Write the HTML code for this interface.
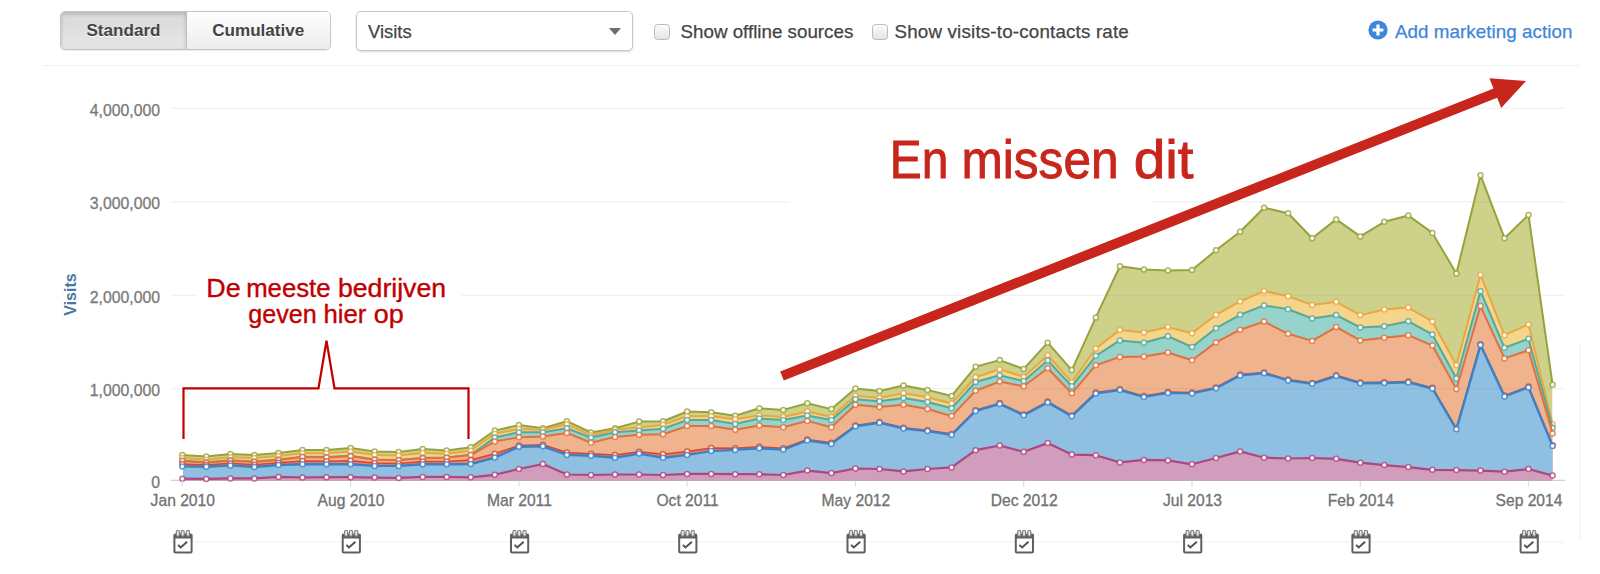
<!DOCTYPE html>
<html><head><meta charset="utf-8"><title>Sources</title>
<style>
html,body{margin:0;padding:0;background:#fff}
body{width:1600px;height:574px;position:relative;overflow:hidden;font-family:"Liberation Sans",sans-serif;color:#444}
.chart{position:absolute;left:0;top:0}
.abs{position:absolute}
.btns{left:60px;top:11px;width:270.5px;height:39.4px;border:1px solid #c4c4c4;border-radius:5px;box-sizing:border-box;overflow:hidden;box-shadow:0 1px 1px rgba(0,0,0,.08);display:flex}
.btns div{height:100%;font-weight:bold;font-size:17.1px;line-height:38.5px;text-align:center;color:#444;text-shadow:0 1px 0 #fff}
.b1{width:125px;background:linear-gradient(#d9d9d9,#e6e6e6);box-shadow:inset 0 2px 4px rgba(0,0,0,.18);border-right:1px solid #bdbdbd}
.b2{flex:1;background:linear-gradient(#ffffff,#ececec)}
.sel{left:356px;top:11px;width:277px;height:40px;border:1px solid #c8c8c8;border-radius:5px;box-sizing:border-box;background:#fff;box-shadow:0 1px 2px rgba(0,0,0,.15);-webkit-text-stroke:.25px;font-size:18.4px;line-height:39px;padding-left:11px;color:#444}
.sel:after{content:"";position:absolute;right:11px;top:15.5px;border-left:6.3px solid transparent;border-right:6.3px solid transparent;border-top:7.2px solid #6e6e6e}
.cb{width:16px;height:16px;box-sizing:border-box;border:1px solid #bbb;border-radius:3.5px;background:linear-gradient(#fdfdfd,#e4e4e4);top:23.7px}
.lbl{-webkit-text-stroke:.25px;font-size:18.77px;top:20.5px;line-height:22px;color:#444;white-space:nowrap}
.link{color:#3e86d9}
.hr{left:43px;top:65px;width:1535.5px;height:1.3px;background:#f1f1f1}
</style></head><body>
<div class="abs btns"><div class="b1">Standard</div><div class="b2">Cumulative</div></div>
<div class="abs sel">Visits</div>
<div class="abs cb" style="left:654px"></div><div class="abs lbl" style="left:680.5px">Show offline sources</div>
<div class="abs cb" style="left:872.2px"></div><div class="abs lbl" style="left:894.5px;letter-spacing:.18px">Show visits-to-contacts rate</div>
<svg class="abs" style="left:1368px;top:20px" width="20" height="20" viewBox="0 0 20 20"><circle cx="10" cy="10" r="9.6" fill="#3e86d9"/><path d="M10 4.6v10.8M4.6 10h10.8" stroke="#fff" stroke-width="3.2"/></svg>
<div class="abs lbl link" style="left:1395px;letter-spacing:.06px">Add marketing action</div>
<div class="abs hr"></div>
<svg class="chart" width="1600" height="574" viewBox="0 0 1600 574">
<line x1="171" x2="1565" y1="108.4" y2="108.4" stroke="#f1f1f1" stroke-width="1.2"/>
<line x1="171" x2="1565" y1="201.8" y2="201.8" stroke="#f1f1f1" stroke-width="1.2"/>
<line x1="171" x2="1565" y1="295.3" y2="295.3" stroke="#f1f1f1" stroke-width="1.2"/>
<line x1="171" x2="1565" y1="388.7" y2="388.7" stroke="#f1f1f1" stroke-width="1.2"/>
<line x1="171" x2="1565" y1="480.4" y2="480.4" stroke="#d2d2d2" stroke-width="1.4"/>
<clipPath id="fc"><rect x="183" y="100" width="1369.4" height="381"/></clipPath>
<line x1="170" x2="1564" y1="542" y2="542" stroke="#f1f1f1" stroke-width="1.2"/>
<line x1="1580" x2="1580" y1="343" y2="541" stroke="#f0f0f0" stroke-width="1.2"/>
<rect x="196" y="270" width="265.5" height="62" fill="#fff"/>
<rect x="790" y="120" width="363" height="90" fill="#fff"/>
<clipPath id="cG"><polygon points="182.3,480.4 182.3,455.1 206.3,456.6 230.4,454.1 254.4,455.1 278.5,452.9 302.5,450.1 326.5,450.1 350.6,448.1 374.6,451.5 398.7,452.0 422.7,449.1 446.7,450.4 470.8,447.3 494.8,430.6 518.9,425.1 542.9,428.2 566.9,421.2 591.0,432.5 615.0,428.2 639.1,421.6 663.1,421.3 687.1,411.5 711.2,412.3 735.2,415.7 759.3,408.3 783.3,409.9 807.3,403.2 831.4,409.1 855.4,388.6 879.5,391.0 903.5,385.5 927.5,389.9 951.6,396.0 975.6,366.7 999.7,360.1 1023.7,369.0 1047.7,342.7 1071.8,370.1 1095.8,317.4 1119.9,266.2 1143.9,269.6 1167.9,270.4 1192.0,269.9 1216.0,250.3 1240.1,231.8 1264.1,207.8 1288.1,213.2 1312.2,238.3 1336.2,219.4 1360.3,236.4 1384.3,221.8 1408.3,215.5 1432.4,232.9 1456.4,273.5 1480.5,175.2 1504.5,238.2 1528.5,214.9 1552.6,384.8 1552.6,480.4"/></clipPath>
<polygon points="182.3,480.4 182.3,455.1 206.3,456.6 230.4,454.1 254.4,455.1 278.5,452.9 302.5,450.1 326.5,450.1 350.6,448.1 374.6,451.5 398.7,452.0 422.7,449.1 446.7,450.4 470.8,447.3 494.8,430.6 518.9,425.1 542.9,428.2 566.9,421.2 591.0,432.5 615.0,428.2 639.1,421.6 663.1,421.3 687.1,411.5 711.2,412.3 735.2,415.7 759.3,408.3 783.3,409.9 807.3,403.2 831.4,409.1 855.4,388.6 879.5,391.0 903.5,385.5 927.5,389.9 951.6,396.0 975.6,366.7 999.7,360.1 1023.7,369.0 1047.7,342.7 1071.8,370.1 1095.8,317.4 1119.9,266.2 1143.9,269.6 1167.9,270.4 1192.0,269.9 1216.0,250.3 1240.1,231.8 1264.1,207.8 1288.1,213.2 1312.2,238.3 1336.2,219.4 1360.3,236.4 1384.3,221.8 1408.3,215.5 1432.4,232.9 1456.4,273.5 1480.5,175.2 1504.5,238.2 1528.5,214.9 1552.6,384.8 1552.6,480.4" fill="#ced18a" clip-path="url(#fc)"/>
<g clip-path="url(#cG)" stroke="#000" stroke-opacity="0.045" stroke-width="1.2">
<line x1="171" x2="1565" y1="201.8" y2="201.8"/>
<line x1="171" x2="1565" y1="295.3" y2="295.3"/>
<line x1="171" x2="1565" y1="388.7" y2="388.7"/>
</g>
<polyline points="182.3,455.1 206.3,456.6 230.4,454.1 254.4,455.1 278.5,452.9 302.5,450.1 326.5,450.1 350.6,448.1 374.6,451.5 398.7,452.0 422.7,449.1 446.7,450.4 470.8,447.3 494.8,430.6 518.9,425.1 542.9,428.2 566.9,421.2 591.0,432.5 615.0,428.2 639.1,421.6 663.1,421.3 687.1,411.5 711.2,412.3 735.2,415.7 759.3,408.3 783.3,409.9 807.3,403.2 831.4,409.1 855.4,388.6 879.5,391.0 903.5,385.5 927.5,389.9 951.6,396.0 975.6,366.7 999.7,360.1 1023.7,369.0 1047.7,342.7 1071.8,370.1 1095.8,317.4 1119.9,266.2 1143.9,269.6 1167.9,270.4 1192.0,269.9 1216.0,250.3 1240.1,231.8 1264.1,207.8 1288.1,213.2 1312.2,238.3 1336.2,219.4 1360.3,236.4 1384.3,221.8 1408.3,215.5 1432.4,232.9 1456.4,273.5 1480.5,175.2 1504.5,238.2 1528.5,214.9 1552.6,384.8" fill="none" stroke="#98a23c" stroke-width="2.0" stroke-linejoin="round" stroke-linecap="round"/>
<g fill="#fff" stroke="#98a23c" stroke-width="1.5" stroke-opacity="0.8">
<circle cx="182.3" cy="455.1" r="2.5"/>
<circle cx="206.3" cy="456.6" r="2.5"/>
<circle cx="230.4" cy="454.1" r="2.5"/>
<circle cx="254.4" cy="455.1" r="2.5"/>
<circle cx="278.5" cy="452.9" r="2.5"/>
<circle cx="302.5" cy="450.1" r="2.5"/>
<circle cx="326.5" cy="450.1" r="2.5"/>
<circle cx="350.6" cy="448.1" r="2.5"/>
<circle cx="374.6" cy="451.5" r="2.5"/>
<circle cx="398.7" cy="452.0" r="2.5"/>
<circle cx="422.7" cy="449.1" r="2.5"/>
<circle cx="446.7" cy="450.4" r="2.5"/>
<circle cx="470.8" cy="447.3" r="2.5"/>
<circle cx="494.8" cy="430.6" r="2.5"/>
<circle cx="518.9" cy="425.1" r="2.5"/>
<circle cx="542.9" cy="428.2" r="2.5"/>
<circle cx="566.9" cy="421.2" r="2.5"/>
<circle cx="591.0" cy="432.5" r="2.5"/>
<circle cx="615.0" cy="428.2" r="2.5"/>
<circle cx="639.1" cy="421.6" r="2.5"/>
<circle cx="663.1" cy="421.3" r="2.5"/>
<circle cx="687.1" cy="411.5" r="2.5"/>
<circle cx="711.2" cy="412.3" r="2.5"/>
<circle cx="735.2" cy="415.7" r="2.5"/>
<circle cx="759.3" cy="408.3" r="2.5"/>
<circle cx="783.3" cy="409.9" r="2.5"/>
<circle cx="807.3" cy="403.2" r="2.5"/>
<circle cx="831.4" cy="409.1" r="2.5"/>
<circle cx="855.4" cy="388.6" r="2.5"/>
<circle cx="879.5" cy="391.0" r="2.5"/>
<circle cx="903.5" cy="385.5" r="2.5"/>
<circle cx="927.5" cy="389.9" r="2.5"/>
<circle cx="951.6" cy="396.0" r="2.5"/>
<circle cx="975.6" cy="366.7" r="2.5"/>
<circle cx="999.7" cy="360.1" r="2.5"/>
<circle cx="1023.7" cy="369.0" r="2.5"/>
<circle cx="1047.7" cy="342.7" r="2.5"/>
<circle cx="1071.8" cy="370.1" r="2.5"/>
<circle cx="1095.8" cy="317.4" r="2.5"/>
<circle cx="1119.9" cy="266.2" r="2.5"/>
<circle cx="1143.9" cy="269.6" r="2.5"/>
<circle cx="1167.9" cy="270.4" r="2.5"/>
<circle cx="1192.0" cy="269.9" r="2.5"/>
<circle cx="1216.0" cy="250.3" r="2.5"/>
<circle cx="1240.1" cy="231.8" r="2.5"/>
<circle cx="1264.1" cy="207.8" r="2.5"/>
<circle cx="1288.1" cy="213.2" r="2.5"/>
<circle cx="1312.2" cy="238.3" r="2.5"/>
<circle cx="1336.2" cy="219.4" r="2.5"/>
<circle cx="1360.3" cy="236.4" r="2.5"/>
<circle cx="1384.3" cy="221.8" r="2.5"/>
<circle cx="1408.3" cy="215.5" r="2.5"/>
<circle cx="1432.4" cy="232.9" r="2.5"/>
<circle cx="1456.4" cy="273.5" r="2.5"/>
<circle cx="1480.5" cy="175.2" r="2.5"/>
<circle cx="1504.5" cy="238.2" r="2.5"/>
<circle cx="1528.5" cy="214.9" r="2.5"/>
<circle cx="1552.6" cy="384.8" r="2.5"/>
</g>
<clipPath id="cY"><polygon points="182.3,480.4 182.3,458.1 206.3,459.7 230.4,457.3 254.4,458.1 278.5,456.1 302.5,453.2 326.5,453.3 350.6,451.6 374.6,455.1 398.7,455.6 422.7,453.1 446.7,453.7 470.8,450.7 494.8,433.7 518.9,429.0 542.9,429.8 566.9,424.3 591.0,435.3 615.0,429.8 639.1,427.4 663.1,424.8 687.1,416.2 711.2,416.2 735.2,419.3 759.3,415.4 783.3,417.0 807.3,411.5 831.4,417.0 855.4,395.7 879.5,398.0 903.5,393.3 927.5,397.2 951.6,403.5 975.6,377.3 999.7,369.3 1023.7,376.9 1047.7,355.2 1071.8,382.3 1095.8,348.5 1119.9,329.9 1143.9,332.5 1167.9,327.1 1192.0,333.3 1216.0,314.8 1240.1,301.4 1264.1,291.1 1288.1,296.3 1312.2,304.9 1336.2,301.8 1360.3,315.1 1384.3,309.6 1408.3,307.6 1432.4,321.4 1456.4,365.2 1480.5,274.8 1504.5,335.2 1528.5,324.4 1552.6,424.3 1552.6,480.4"/></clipPath>
<polygon points="182.3,480.4 182.3,458.1 206.3,459.7 230.4,457.3 254.4,458.1 278.5,456.1 302.5,453.2 326.5,453.3 350.6,451.6 374.6,455.1 398.7,455.6 422.7,453.1 446.7,453.7 470.8,450.7 494.8,433.7 518.9,429.0 542.9,429.8 566.9,424.3 591.0,435.3 615.0,429.8 639.1,427.4 663.1,424.8 687.1,416.2 711.2,416.2 735.2,419.3 759.3,415.4 783.3,417.0 807.3,411.5 831.4,417.0 855.4,395.7 879.5,398.0 903.5,393.3 927.5,397.2 951.6,403.5 975.6,377.3 999.7,369.3 1023.7,376.9 1047.7,355.2 1071.8,382.3 1095.8,348.5 1119.9,329.9 1143.9,332.5 1167.9,327.1 1192.0,333.3 1216.0,314.8 1240.1,301.4 1264.1,291.1 1288.1,296.3 1312.2,304.9 1336.2,301.8 1360.3,315.1 1384.3,309.6 1408.3,307.6 1432.4,321.4 1456.4,365.2 1480.5,274.8 1504.5,335.2 1528.5,324.4 1552.6,424.3 1552.6,480.4" fill="#f5d58b" clip-path="url(#fc)"/>
<g clip-path="url(#cY)" stroke="#000" stroke-opacity="0.045" stroke-width="1.2">
<line x1="171" x2="1565" y1="295.3" y2="295.3"/>
<line x1="171" x2="1565" y1="388.7" y2="388.7"/>
</g>
<polyline points="182.3,458.1 206.3,459.7 230.4,457.3 254.4,458.1 278.5,456.1 302.5,453.2 326.5,453.3 350.6,451.6 374.6,455.1 398.7,455.6 422.7,453.1 446.7,453.7 470.8,450.7 494.8,433.7 518.9,429.0 542.9,429.8 566.9,424.3 591.0,435.3 615.0,429.8 639.1,427.4 663.1,424.8 687.1,416.2 711.2,416.2 735.2,419.3 759.3,415.4 783.3,417.0 807.3,411.5 831.4,417.0 855.4,395.7 879.5,398.0 903.5,393.3 927.5,397.2 951.6,403.5 975.6,377.3 999.7,369.3 1023.7,376.9 1047.7,355.2 1071.8,382.3 1095.8,348.5 1119.9,329.9 1143.9,332.5 1167.9,327.1 1192.0,333.3 1216.0,314.8 1240.1,301.4 1264.1,291.1 1288.1,296.3 1312.2,304.9 1336.2,301.8 1360.3,315.1 1384.3,309.6 1408.3,307.6 1432.4,321.4 1456.4,365.2 1480.5,274.8 1504.5,335.2 1528.5,324.4 1552.6,424.3" fill="none" stroke="#e8a742" stroke-width="2.0" stroke-linejoin="round" stroke-linecap="round"/>
<g fill="#fff" stroke="#e8a742" stroke-width="1.5" stroke-opacity="0.8">
<circle cx="182.3" cy="458.1" r="2.5"/>
<circle cx="206.3" cy="459.7" r="2.5"/>
<circle cx="230.4" cy="457.3" r="2.5"/>
<circle cx="254.4" cy="458.1" r="2.5"/>
<circle cx="278.5" cy="456.1" r="2.5"/>
<circle cx="302.5" cy="453.2" r="2.5"/>
<circle cx="326.5" cy="453.3" r="2.5"/>
<circle cx="350.6" cy="451.6" r="2.5"/>
<circle cx="374.6" cy="455.1" r="2.5"/>
<circle cx="398.7" cy="455.6" r="2.5"/>
<circle cx="422.7" cy="453.1" r="2.5"/>
<circle cx="446.7" cy="453.7" r="2.5"/>
<circle cx="470.8" cy="450.7" r="2.5"/>
<circle cx="494.8" cy="433.7" r="2.5"/>
<circle cx="518.9" cy="429.0" r="2.5"/>
<circle cx="542.9" cy="429.8" r="2.5"/>
<circle cx="566.9" cy="424.3" r="2.5"/>
<circle cx="591.0" cy="435.3" r="2.5"/>
<circle cx="615.0" cy="429.8" r="2.5"/>
<circle cx="639.1" cy="427.4" r="2.5"/>
<circle cx="663.1" cy="424.8" r="2.5"/>
<circle cx="687.1" cy="416.2" r="2.5"/>
<circle cx="711.2" cy="416.2" r="2.5"/>
<circle cx="735.2" cy="419.3" r="2.5"/>
<circle cx="759.3" cy="415.4" r="2.5"/>
<circle cx="783.3" cy="417.0" r="2.5"/>
<circle cx="807.3" cy="411.5" r="2.5"/>
<circle cx="831.4" cy="417.0" r="2.5"/>
<circle cx="855.4" cy="395.7" r="2.5"/>
<circle cx="879.5" cy="398.0" r="2.5"/>
<circle cx="903.5" cy="393.3" r="2.5"/>
<circle cx="927.5" cy="397.2" r="2.5"/>
<circle cx="951.6" cy="403.5" r="2.5"/>
<circle cx="975.6" cy="377.3" r="2.5"/>
<circle cx="999.7" cy="369.3" r="2.5"/>
<circle cx="1023.7" cy="376.9" r="2.5"/>
<circle cx="1047.7" cy="355.2" r="2.5"/>
<circle cx="1071.8" cy="382.3" r="2.5"/>
<circle cx="1095.8" cy="348.5" r="2.5"/>
<circle cx="1119.9" cy="329.9" r="2.5"/>
<circle cx="1143.9" cy="332.5" r="2.5"/>
<circle cx="1167.9" cy="327.1" r="2.5"/>
<circle cx="1192.0" cy="333.3" r="2.5"/>
<circle cx="1216.0" cy="314.8" r="2.5"/>
<circle cx="1240.1" cy="301.4" r="2.5"/>
<circle cx="1264.1" cy="291.1" r="2.5"/>
<circle cx="1288.1" cy="296.3" r="2.5"/>
<circle cx="1312.2" cy="304.9" r="2.5"/>
<circle cx="1336.2" cy="301.8" r="2.5"/>
<circle cx="1360.3" cy="315.1" r="2.5"/>
<circle cx="1384.3" cy="309.6" r="2.5"/>
<circle cx="1408.3" cy="307.6" r="2.5"/>
<circle cx="1432.4" cy="321.4" r="2.5"/>
<circle cx="1456.4" cy="365.2" r="2.5"/>
<circle cx="1480.5" cy="274.8" r="2.5"/>
<circle cx="1504.5" cy="335.2" r="2.5"/>
<circle cx="1528.5" cy="324.4" r="2.5"/>
<circle cx="1552.6" cy="424.3" r="2.5"/>
</g>
<clipPath id="cT"><polygon points="182.3,480.4 182.3,460.7 206.3,462.3 230.4,460.3 254.4,461.5 278.5,459.5 302.5,456.7 326.5,457.1 350.6,455.8 374.6,459.4 398.7,459.9 422.7,457.8 446.7,457.4 470.8,454.7 494.8,437.6 518.9,432.2 542.9,432.2 566.9,428.2 591.0,437.6 615.0,432.2 639.1,430.6 663.1,428.7 687.1,420.1 711.2,420.1 735.2,424.0 759.3,418.5 783.3,420.1 807.3,415.4 831.4,420.1 855.4,399.3 879.5,401.2 903.5,398.0 927.5,402.0 951.6,408.2 975.6,382.0 999.7,375.3 1023.7,381.1 1047.7,360.4 1071.8,386.3 1095.8,355.8 1119.9,340.4 1143.9,342.7 1167.9,336.2 1192.0,347.0 1216.0,328.2 1240.1,314.8 1264.1,305.4 1288.1,309.3 1312.2,318.5 1336.2,315.1 1360.3,327.5 1384.3,326.3 1408.3,321.3 1432.4,334.4 1456.4,378.5 1480.5,291.2 1504.5,347.8 1528.5,338.8 1552.6,428.0 1552.6,480.4"/></clipPath>
<polygon points="182.3,480.4 182.3,460.7 206.3,462.3 230.4,460.3 254.4,461.5 278.5,459.5 302.5,456.7 326.5,457.1 350.6,455.8 374.6,459.4 398.7,459.9 422.7,457.8 446.7,457.4 470.8,454.7 494.8,437.6 518.9,432.2 542.9,432.2 566.9,428.2 591.0,437.6 615.0,432.2 639.1,430.6 663.1,428.7 687.1,420.1 711.2,420.1 735.2,424.0 759.3,418.5 783.3,420.1 807.3,415.4 831.4,420.1 855.4,399.3 879.5,401.2 903.5,398.0 927.5,402.0 951.6,408.2 975.6,382.0 999.7,375.3 1023.7,381.1 1047.7,360.4 1071.8,386.3 1095.8,355.8 1119.9,340.4 1143.9,342.7 1167.9,336.2 1192.0,347.0 1216.0,328.2 1240.1,314.8 1264.1,305.4 1288.1,309.3 1312.2,318.5 1336.2,315.1 1360.3,327.5 1384.3,326.3 1408.3,321.3 1432.4,334.4 1456.4,378.5 1480.5,291.2 1504.5,347.8 1528.5,338.8 1552.6,428.0 1552.6,480.4" fill="#96d3cb" clip-path="url(#fc)"/>
<g clip-path="url(#cT)" stroke="#000" stroke-opacity="0.045" stroke-width="1.2">
<line x1="171" x2="1565" y1="295.3" y2="295.3"/>
<line x1="171" x2="1565" y1="388.7" y2="388.7"/>
</g>
<polyline points="182.3,460.7 206.3,462.3 230.4,460.3 254.4,461.5 278.5,459.5 302.5,456.7 326.5,457.1 350.6,455.8 374.6,459.4 398.7,459.9 422.7,457.8 446.7,457.4 470.8,454.7 494.8,437.6 518.9,432.2 542.9,432.2 566.9,428.2 591.0,437.6 615.0,432.2 639.1,430.6 663.1,428.7 687.1,420.1 711.2,420.1 735.2,424.0 759.3,418.5 783.3,420.1 807.3,415.4 831.4,420.1 855.4,399.3 879.5,401.2 903.5,398.0 927.5,402.0 951.6,408.2 975.6,382.0 999.7,375.3 1023.7,381.1 1047.7,360.4 1071.8,386.3 1095.8,355.8 1119.9,340.4 1143.9,342.7 1167.9,336.2 1192.0,347.0 1216.0,328.2 1240.1,314.8 1264.1,305.4 1288.1,309.3 1312.2,318.5 1336.2,315.1 1360.3,327.5 1384.3,326.3 1408.3,321.3 1432.4,334.4 1456.4,378.5 1480.5,291.2 1504.5,347.8 1528.5,338.8 1552.6,428.0" fill="none" stroke="#58a898" stroke-width="2.0" stroke-linejoin="round" stroke-linecap="round"/>
<g fill="#fff" stroke="#58a898" stroke-width="1.5" stroke-opacity="0.8">
<circle cx="182.3" cy="460.7" r="2.5"/>
<circle cx="206.3" cy="462.3" r="2.5"/>
<circle cx="230.4" cy="460.3" r="2.5"/>
<circle cx="254.4" cy="461.5" r="2.5"/>
<circle cx="278.5" cy="459.5" r="2.5"/>
<circle cx="302.5" cy="456.7" r="2.5"/>
<circle cx="326.5" cy="457.1" r="2.5"/>
<circle cx="350.6" cy="455.8" r="2.5"/>
<circle cx="374.6" cy="459.4" r="2.5"/>
<circle cx="398.7" cy="459.9" r="2.5"/>
<circle cx="422.7" cy="457.8" r="2.5"/>
<circle cx="446.7" cy="457.4" r="2.5"/>
<circle cx="470.8" cy="454.7" r="2.5"/>
<circle cx="494.8" cy="437.6" r="2.5"/>
<circle cx="518.9" cy="432.2" r="2.5"/>
<circle cx="542.9" cy="432.2" r="2.5"/>
<circle cx="566.9" cy="428.2" r="2.5"/>
<circle cx="591.0" cy="437.6" r="2.5"/>
<circle cx="615.0" cy="432.2" r="2.5"/>
<circle cx="639.1" cy="430.6" r="2.5"/>
<circle cx="663.1" cy="428.7" r="2.5"/>
<circle cx="687.1" cy="420.1" r="2.5"/>
<circle cx="711.2" cy="420.1" r="2.5"/>
<circle cx="735.2" cy="424.0" r="2.5"/>
<circle cx="759.3" cy="418.5" r="2.5"/>
<circle cx="783.3" cy="420.1" r="2.5"/>
<circle cx="807.3" cy="415.4" r="2.5"/>
<circle cx="831.4" cy="420.1" r="2.5"/>
<circle cx="855.4" cy="399.3" r="2.5"/>
<circle cx="879.5" cy="401.2" r="2.5"/>
<circle cx="903.5" cy="398.0" r="2.5"/>
<circle cx="927.5" cy="402.0" r="2.5"/>
<circle cx="951.6" cy="408.2" r="2.5"/>
<circle cx="975.6" cy="382.0" r="2.5"/>
<circle cx="999.7" cy="375.3" r="2.5"/>
<circle cx="1023.7" cy="381.1" r="2.5"/>
<circle cx="1047.7" cy="360.4" r="2.5"/>
<circle cx="1071.8" cy="386.3" r="2.5"/>
<circle cx="1095.8" cy="355.8" r="2.5"/>
<circle cx="1119.9" cy="340.4" r="2.5"/>
<circle cx="1143.9" cy="342.7" r="2.5"/>
<circle cx="1167.9" cy="336.2" r="2.5"/>
<circle cx="1192.0" cy="347.0" r="2.5"/>
<circle cx="1216.0" cy="328.2" r="2.5"/>
<circle cx="1240.1" cy="314.8" r="2.5"/>
<circle cx="1264.1" cy="305.4" r="2.5"/>
<circle cx="1288.1" cy="309.3" r="2.5"/>
<circle cx="1312.2" cy="318.5" r="2.5"/>
<circle cx="1336.2" cy="315.1" r="2.5"/>
<circle cx="1360.3" cy="327.5" r="2.5"/>
<circle cx="1384.3" cy="326.3" r="2.5"/>
<circle cx="1408.3" cy="321.3" r="2.5"/>
<circle cx="1432.4" cy="334.4" r="2.5"/>
<circle cx="1456.4" cy="378.5" r="2.5"/>
<circle cx="1480.5" cy="291.2" r="2.5"/>
<circle cx="1504.5" cy="347.8" r="2.5"/>
<circle cx="1528.5" cy="338.8" r="2.5"/>
<circle cx="1552.6" cy="428.0" r="2.5"/>
</g>
<clipPath id="cO"><polygon points="182.3,480.4 182.3,461.1 206.3,462.7 230.4,460.7 254.4,461.9 278.5,459.9 302.5,457.1 326.5,457.5 350.6,456.2 374.6,459.8 398.7,460.3 422.7,458.2 446.7,457.8 470.8,455.1 494.8,441.6 518.9,437.2 542.9,436.4 566.9,432.9 591.0,442.7 615.0,436.9 639.1,434.8 663.1,434.2 687.1,426.1 711.2,426.1 735.2,429.8 759.3,425.6 783.3,427.2 807.3,420.9 831.4,427.2 855.4,404.8 879.5,407.1 903.5,404.8 927.5,409.0 951.6,416.1 975.6,390.7 999.7,381.6 1023.7,386.3 1047.7,368.2 1071.8,393.3 1095.8,365.2 1119.9,356.9 1143.9,356.4 1167.9,352.5 1192.0,360.3 1216.0,342.4 1240.1,329.7 1264.1,321.6 1288.1,333.8 1312.2,340.9 1336.2,327.1 1360.3,340.4 1384.3,337.7 1408.3,335.2 1432.4,345.6 1456.4,389.0 1480.5,306.1 1504.5,358.4 1528.5,350.3 1552.6,433.4 1552.6,480.4"/></clipPath>
<polygon points="182.3,480.4 182.3,461.1 206.3,462.7 230.4,460.7 254.4,461.9 278.5,459.9 302.5,457.1 326.5,457.5 350.6,456.2 374.6,459.8 398.7,460.3 422.7,458.2 446.7,457.8 470.8,455.1 494.8,441.6 518.9,437.2 542.9,436.4 566.9,432.9 591.0,442.7 615.0,436.9 639.1,434.8 663.1,434.2 687.1,426.1 711.2,426.1 735.2,429.8 759.3,425.6 783.3,427.2 807.3,420.9 831.4,427.2 855.4,404.8 879.5,407.1 903.5,404.8 927.5,409.0 951.6,416.1 975.6,390.7 999.7,381.6 1023.7,386.3 1047.7,368.2 1071.8,393.3 1095.8,365.2 1119.9,356.9 1143.9,356.4 1167.9,352.5 1192.0,360.3 1216.0,342.4 1240.1,329.7 1264.1,321.6 1288.1,333.8 1312.2,340.9 1336.2,327.1 1360.3,340.4 1384.3,337.7 1408.3,335.2 1432.4,345.6 1456.4,389.0 1480.5,306.1 1504.5,358.4 1528.5,350.3 1552.6,433.4 1552.6,480.4" fill="#efb38e" clip-path="url(#fc)"/>
<g clip-path="url(#cO)" stroke="#000" stroke-opacity="0.045" stroke-width="1.2">
<line x1="171" x2="1565" y1="388.7" y2="388.7"/>
</g>
<polyline points="182.3,461.1 206.3,462.7 230.4,460.7 254.4,461.9 278.5,459.9 302.5,457.1 326.5,457.5 350.6,456.2 374.6,459.8 398.7,460.3 422.7,458.2 446.7,457.8 470.8,455.1 494.8,441.6 518.9,437.2 542.9,436.4 566.9,432.9 591.0,442.7 615.0,436.9 639.1,434.8 663.1,434.2 687.1,426.1 711.2,426.1 735.2,429.8 759.3,425.6 783.3,427.2 807.3,420.9 831.4,427.2 855.4,404.8 879.5,407.1 903.5,404.8 927.5,409.0 951.6,416.1 975.6,390.7 999.7,381.6 1023.7,386.3 1047.7,368.2 1071.8,393.3 1095.8,365.2 1119.9,356.9 1143.9,356.4 1167.9,352.5 1192.0,360.3 1216.0,342.4 1240.1,329.7 1264.1,321.6 1288.1,333.8 1312.2,340.9 1336.2,327.1 1360.3,340.4 1384.3,337.7 1408.3,335.2 1432.4,345.6 1456.4,389.0 1480.5,306.1 1504.5,358.4 1528.5,350.3 1552.6,433.4" fill="none" stroke="#e0713e" stroke-width="2.0" stroke-linejoin="round" stroke-linecap="round"/>
<g fill="#fff" stroke="#e0713e" stroke-width="1.5" stroke-opacity="0.8">
<circle cx="182.3" cy="461.1" r="2.5"/>
<circle cx="206.3" cy="462.7" r="2.5"/>
<circle cx="230.4" cy="460.7" r="2.5"/>
<circle cx="254.4" cy="461.9" r="2.5"/>
<circle cx="278.5" cy="459.9" r="2.5"/>
<circle cx="302.5" cy="457.1" r="2.5"/>
<circle cx="326.5" cy="457.5" r="2.5"/>
<circle cx="350.6" cy="456.2" r="2.5"/>
<circle cx="374.6" cy="459.8" r="2.5"/>
<circle cx="398.7" cy="460.3" r="2.5"/>
<circle cx="422.7" cy="458.2" r="2.5"/>
<circle cx="446.7" cy="457.8" r="2.5"/>
<circle cx="470.8" cy="455.1" r="2.5"/>
<circle cx="494.8" cy="441.6" r="2.5"/>
<circle cx="518.9" cy="437.2" r="2.5"/>
<circle cx="542.9" cy="436.4" r="2.5"/>
<circle cx="566.9" cy="432.9" r="2.5"/>
<circle cx="591.0" cy="442.7" r="2.5"/>
<circle cx="615.0" cy="436.9" r="2.5"/>
<circle cx="639.1" cy="434.8" r="2.5"/>
<circle cx="663.1" cy="434.2" r="2.5"/>
<circle cx="687.1" cy="426.1" r="2.5"/>
<circle cx="711.2" cy="426.1" r="2.5"/>
<circle cx="735.2" cy="429.8" r="2.5"/>
<circle cx="759.3" cy="425.6" r="2.5"/>
<circle cx="783.3" cy="427.2" r="2.5"/>
<circle cx="807.3" cy="420.9" r="2.5"/>
<circle cx="831.4" cy="427.2" r="2.5"/>
<circle cx="855.4" cy="404.8" r="2.5"/>
<circle cx="879.5" cy="407.1" r="2.5"/>
<circle cx="903.5" cy="404.8" r="2.5"/>
<circle cx="927.5" cy="409.0" r="2.5"/>
<circle cx="951.6" cy="416.1" r="2.5"/>
<circle cx="975.6" cy="390.7" r="2.5"/>
<circle cx="999.7" cy="381.6" r="2.5"/>
<circle cx="1023.7" cy="386.3" r="2.5"/>
<circle cx="1047.7" cy="368.2" r="2.5"/>
<circle cx="1071.8" cy="393.3" r="2.5"/>
<circle cx="1095.8" cy="365.2" r="2.5"/>
<circle cx="1119.9" cy="356.9" r="2.5"/>
<circle cx="1143.9" cy="356.4" r="2.5"/>
<circle cx="1167.9" cy="352.5" r="2.5"/>
<circle cx="1192.0" cy="360.3" r="2.5"/>
<circle cx="1216.0" cy="342.4" r="2.5"/>
<circle cx="1240.1" cy="329.7" r="2.5"/>
<circle cx="1264.1" cy="321.6" r="2.5"/>
<circle cx="1288.1" cy="333.8" r="2.5"/>
<circle cx="1312.2" cy="340.9" r="2.5"/>
<circle cx="1336.2" cy="327.1" r="2.5"/>
<circle cx="1360.3" cy="340.4" r="2.5"/>
<circle cx="1384.3" cy="337.7" r="2.5"/>
<circle cx="1408.3" cy="335.2" r="2.5"/>
<circle cx="1432.4" cy="345.6" r="2.5"/>
<circle cx="1456.4" cy="389.0" r="2.5"/>
<circle cx="1480.5" cy="306.1" r="2.5"/>
<circle cx="1504.5" cy="358.4" r="2.5"/>
<circle cx="1528.5" cy="350.3" r="2.5"/>
<circle cx="1552.6" cy="433.4" r="2.5"/>
</g>
<clipPath id="cR"><polygon points="182.3,480.4 182.3,464.0 206.3,465.0 230.4,463.3 254.4,464.7 278.5,462.7 302.5,461.1 326.5,461.2 350.6,460.7 374.6,463.1 398.7,463.4 422.7,461.6 446.7,461.4 470.8,460.0 494.8,453.8 518.9,445.5 542.9,444.7 566.9,452.5 591.0,453.8 615.0,454.9 639.1,451.8 663.1,454.3 687.1,451.5 711.2,448.0 735.2,448.3 759.3,446.8 783.3,448.3 807.3,439.4 831.4,442.8 855.4,425.5 879.5,421.9 903.5,427.7 927.5,430.3 951.6,434.0 975.6,410.2 999.7,403.1 1023.7,414.4 1047.7,401.6 1071.8,415.4 1095.8,392.6 1119.9,389.3 1143.9,396.1 1167.9,392.1 1192.0,392.6 1216.0,387.4 1240.1,374.6 1264.1,372.5 1288.1,379.6 1312.2,383.0 1336.2,375.3 1360.3,382.4 1384.3,382.2 1408.3,381.6 1432.4,387.7 1456.4,428.5 1480.5,344.3 1504.5,395.6 1528.5,386.6 1552.6,445.2 1552.6,480.4"/></clipPath>
<polygon points="182.3,480.4 182.3,464.0 206.3,465.0 230.4,463.3 254.4,464.7 278.5,462.7 302.5,461.1 326.5,461.2 350.6,460.7 374.6,463.1 398.7,463.4 422.7,461.6 446.7,461.4 470.8,460.0 494.8,453.8 518.9,445.5 542.9,444.7 566.9,452.5 591.0,453.8 615.0,454.9 639.1,451.8 663.1,454.3 687.1,451.5 711.2,448.0 735.2,448.3 759.3,446.8 783.3,448.3 807.3,439.4 831.4,442.8 855.4,425.5 879.5,421.9 903.5,427.7 927.5,430.3 951.6,434.0 975.6,410.2 999.7,403.1 1023.7,414.4 1047.7,401.6 1071.8,415.4 1095.8,392.6 1119.9,389.3 1143.9,396.1 1167.9,392.1 1192.0,392.6 1216.0,387.4 1240.1,374.6 1264.1,372.5 1288.1,379.6 1312.2,383.0 1336.2,375.3 1360.3,382.4 1384.3,382.2 1408.3,381.6 1432.4,387.7 1456.4,428.5 1480.5,344.3 1504.5,395.6 1528.5,386.6 1552.6,445.2 1552.6,480.4" fill="#e9826a" clip-path="url(#fc)"/>
<g clip-path="url(#cR)" stroke="#000" stroke-opacity="0.045" stroke-width="1.2">
<line x1="171" x2="1565" y1="388.7" y2="388.7"/>
</g>
<polyline points="182.3,464.0 206.3,465.0 230.4,463.3 254.4,464.7 278.5,462.7 302.5,461.1 326.5,461.2 350.6,460.7 374.6,463.1 398.7,463.4 422.7,461.6 446.7,461.4 470.8,460.0 494.8,453.8 518.9,445.5 542.9,444.7 566.9,452.5 591.0,453.8 615.0,454.9 639.1,451.8 663.1,454.3 687.1,451.5 711.2,448.0 735.2,448.3 759.3,446.8 783.3,448.3 807.3,439.4 831.4,442.8 855.4,425.5 879.5,421.9 903.5,427.7 927.5,430.3 951.6,434.0 975.6,410.2 999.7,403.1 1023.7,414.4 1047.7,401.6 1071.8,415.4 1095.8,392.6 1119.9,389.3 1143.9,396.1 1167.9,392.1 1192.0,392.6 1216.0,387.4 1240.1,374.6 1264.1,372.5 1288.1,379.6 1312.2,383.0 1336.2,375.3 1360.3,382.4 1384.3,382.2 1408.3,381.6 1432.4,387.7 1456.4,428.5 1480.5,344.3 1504.5,395.6 1528.5,386.6 1552.6,445.2" fill="none" stroke="#d8452a" stroke-width="1.5" stroke-linejoin="round" stroke-linecap="round"/>
<g fill="#fff" stroke="#d8452a" stroke-width="1.5" stroke-opacity="0.8">
<circle cx="182.3" cy="464.0" r="2.5"/>
<circle cx="206.3" cy="465.0" r="2.5"/>
<circle cx="230.4" cy="463.3" r="2.5"/>
<circle cx="254.4" cy="464.7" r="2.5"/>
<circle cx="278.5" cy="462.7" r="2.5"/>
<circle cx="302.5" cy="461.1" r="2.5"/>
<circle cx="326.5" cy="461.2" r="2.5"/>
<circle cx="350.6" cy="460.7" r="2.5"/>
<circle cx="374.6" cy="463.1" r="2.5"/>
<circle cx="398.7" cy="463.4" r="2.5"/>
<circle cx="422.7" cy="461.6" r="2.5"/>
<circle cx="446.7" cy="461.4" r="2.5"/>
<circle cx="470.8" cy="460.0" r="2.5"/>
<circle cx="494.8" cy="453.8" r="2.5"/>
<circle cx="518.9" cy="445.5" r="2.5"/>
<circle cx="542.9" cy="444.7" r="2.5"/>
<circle cx="566.9" cy="452.5" r="2.5"/>
<circle cx="591.0" cy="453.8" r="2.5"/>
<circle cx="615.0" cy="454.9" r="2.5"/>
<circle cx="639.1" cy="451.8" r="2.5"/>
<circle cx="663.1" cy="454.3" r="2.5"/>
<circle cx="687.1" cy="451.5" r="2.5"/>
<circle cx="711.2" cy="448.0" r="2.5"/>
<circle cx="735.2" cy="448.3" r="2.5"/>
<circle cx="759.3" cy="446.8" r="2.5"/>
<circle cx="783.3" cy="448.3" r="2.5"/>
<circle cx="807.3" cy="439.4" r="2.5"/>
<circle cx="831.4" cy="442.8" r="2.5"/>
<circle cx="855.4" cy="425.5" r="2.5"/>
<circle cx="879.5" cy="421.9" r="2.5"/>
<circle cx="903.5" cy="427.7" r="2.5"/>
<circle cx="927.5" cy="430.3" r="2.5"/>
<circle cx="951.6" cy="434.0" r="2.5"/>
<circle cx="975.6" cy="410.2" r="2.5"/>
<circle cx="999.7" cy="403.1" r="2.5"/>
<circle cx="1023.7" cy="414.4" r="2.5"/>
<circle cx="1047.7" cy="401.6" r="2.5"/>
<circle cx="1071.8" cy="415.4" r="2.5"/>
<circle cx="1095.8" cy="392.6" r="2.5"/>
<circle cx="1119.9" cy="389.3" r="2.5"/>
<circle cx="1143.9" cy="396.1" r="2.5"/>
<circle cx="1167.9" cy="392.1" r="2.5"/>
<circle cx="1192.0" cy="392.6" r="2.5"/>
<circle cx="1216.0" cy="387.4" r="2.5"/>
<circle cx="1240.1" cy="374.6" r="2.5"/>
<circle cx="1264.1" cy="372.5" r="2.5"/>
<circle cx="1288.1" cy="379.6" r="2.5"/>
<circle cx="1312.2" cy="383.0" r="2.5"/>
<circle cx="1336.2" cy="375.3" r="2.5"/>
<circle cx="1360.3" cy="382.4" r="2.5"/>
<circle cx="1384.3" cy="382.2" r="2.5"/>
<circle cx="1408.3" cy="381.6" r="2.5"/>
<circle cx="1432.4" cy="387.7" r="2.5"/>
<circle cx="1456.4" cy="428.5" r="2.5"/>
<circle cx="1480.5" cy="344.3" r="2.5"/>
<circle cx="1504.5" cy="395.6" r="2.5"/>
<circle cx="1528.5" cy="386.6" r="2.5"/>
<circle cx="1552.6" cy="445.2" r="2.5"/>
</g>
<clipPath id="cB"><polygon points="182.3,480.4 182.3,466.4 206.3,466.8 230.4,465.4 254.4,467.0 278.5,465.0 302.5,464.3 326.5,464.3 350.6,464.3 374.6,465.9 398.7,465.9 422.7,464.3 446.7,464.3 470.8,464.0 494.8,457.6 518.9,446.7 542.9,446.3 566.9,454.9 591.0,455.7 615.0,457.7 639.1,453.6 663.1,457.7 687.1,454.9 711.2,451.1 735.2,449.9 759.3,448.3 783.3,449.6 807.3,440.5 831.4,443.9 855.4,426.3 879.5,422.7 903.5,428.5 927.5,431.1 951.6,434.8 975.6,411.0 999.7,403.9 1023.7,415.2 1047.7,402.4 1071.8,416.2 1095.8,393.4 1119.9,390.1 1143.9,396.9 1167.9,392.9 1192.0,393.4 1216.0,388.2 1240.1,375.4 1264.1,373.3 1288.1,380.4 1312.2,383.8 1336.2,376.1 1360.3,383.2 1384.3,383.0 1408.3,382.4 1432.4,388.5 1456.4,429.3 1480.5,345.1 1504.5,396.4 1528.5,387.4 1552.6,446.0 1552.6,480.4"/></clipPath>
<polygon points="182.3,480.4 182.3,466.4 206.3,466.8 230.4,465.4 254.4,467.0 278.5,465.0 302.5,464.3 326.5,464.3 350.6,464.3 374.6,465.9 398.7,465.9 422.7,464.3 446.7,464.3 470.8,464.0 494.8,457.6 518.9,446.7 542.9,446.3 566.9,454.9 591.0,455.7 615.0,457.7 639.1,453.6 663.1,457.7 687.1,454.9 711.2,451.1 735.2,449.9 759.3,448.3 783.3,449.6 807.3,440.5 831.4,443.9 855.4,426.3 879.5,422.7 903.5,428.5 927.5,431.1 951.6,434.8 975.6,411.0 999.7,403.9 1023.7,415.2 1047.7,402.4 1071.8,416.2 1095.8,393.4 1119.9,390.1 1143.9,396.9 1167.9,392.9 1192.0,393.4 1216.0,388.2 1240.1,375.4 1264.1,373.3 1288.1,380.4 1312.2,383.8 1336.2,376.1 1360.3,383.2 1384.3,383.0 1408.3,382.4 1432.4,388.5 1456.4,429.3 1480.5,345.1 1504.5,396.4 1528.5,387.4 1552.6,446.0 1552.6,480.4" fill="#8fc0e2" clip-path="url(#fc)"/>
<g clip-path="url(#cB)" stroke="#000" stroke-opacity="0.045" stroke-width="1.2">
<line x1="171" x2="1565" y1="388.7" y2="388.7"/>
</g>
<polyline points="182.3,466.4 206.3,466.8 230.4,465.4 254.4,467.0 278.5,465.0 302.5,464.3 326.5,464.3 350.6,464.3 374.6,465.9 398.7,465.9 422.7,464.3 446.7,464.3 470.8,464.0 494.8,457.6 518.9,446.7 542.9,446.3 566.9,454.9 591.0,455.7 615.0,457.7 639.1,453.6 663.1,457.7 687.1,454.9 711.2,451.1 735.2,449.9 759.3,448.3 783.3,449.6 807.3,440.5 831.4,443.9 855.4,426.3 879.5,422.7 903.5,428.5 927.5,431.1 951.6,434.8 975.6,411.0 999.7,403.9 1023.7,415.2 1047.7,402.4 1071.8,416.2 1095.8,393.4 1119.9,390.1 1143.9,396.9 1167.9,392.9 1192.0,393.4 1216.0,388.2 1240.1,375.4 1264.1,373.3 1288.1,380.4 1312.2,383.8 1336.2,376.1 1360.3,383.2 1384.3,383.0 1408.3,382.4 1432.4,388.5 1456.4,429.3 1480.5,345.1 1504.5,396.4 1528.5,387.4 1552.6,446.0" fill="none" stroke="#3f7fc4" stroke-width="2.4" stroke-linejoin="round" stroke-linecap="round"/>
<g fill="#fff" stroke="#3f7fc4" stroke-width="1.5" stroke-opacity="0.8">
<circle cx="182.3" cy="466.4" r="2.5"/>
<circle cx="206.3" cy="466.8" r="2.5"/>
<circle cx="230.4" cy="465.4" r="2.5"/>
<circle cx="254.4" cy="467.0" r="2.5"/>
<circle cx="278.5" cy="465.0" r="2.5"/>
<circle cx="302.5" cy="464.3" r="2.5"/>
<circle cx="326.5" cy="464.3" r="2.5"/>
<circle cx="350.6" cy="464.3" r="2.5"/>
<circle cx="374.6" cy="465.9" r="2.5"/>
<circle cx="398.7" cy="465.9" r="2.5"/>
<circle cx="422.7" cy="464.3" r="2.5"/>
<circle cx="446.7" cy="464.3" r="2.5"/>
<circle cx="470.8" cy="464.0" r="2.5"/>
<circle cx="494.8" cy="457.6" r="2.5"/>
<circle cx="518.9" cy="446.7" r="2.5"/>
<circle cx="542.9" cy="446.3" r="2.5"/>
<circle cx="566.9" cy="454.9" r="2.5"/>
<circle cx="591.0" cy="455.7" r="2.5"/>
<circle cx="615.0" cy="457.7" r="2.5"/>
<circle cx="639.1" cy="453.6" r="2.5"/>
<circle cx="663.1" cy="457.7" r="2.5"/>
<circle cx="687.1" cy="454.9" r="2.5"/>
<circle cx="711.2" cy="451.1" r="2.5"/>
<circle cx="735.2" cy="449.9" r="2.5"/>
<circle cx="759.3" cy="448.3" r="2.5"/>
<circle cx="783.3" cy="449.6" r="2.5"/>
<circle cx="807.3" cy="440.5" r="2.5"/>
<circle cx="831.4" cy="443.9" r="2.5"/>
<circle cx="855.4" cy="426.3" r="2.5"/>
<circle cx="879.5" cy="422.7" r="2.5"/>
<circle cx="903.5" cy="428.5" r="2.5"/>
<circle cx="927.5" cy="431.1" r="2.5"/>
<circle cx="951.6" cy="434.8" r="2.5"/>
<circle cx="975.6" cy="411.0" r="2.5"/>
<circle cx="999.7" cy="403.9" r="2.5"/>
<circle cx="1023.7" cy="415.2" r="2.5"/>
<circle cx="1047.7" cy="402.4" r="2.5"/>
<circle cx="1071.8" cy="416.2" r="2.5"/>
<circle cx="1095.8" cy="393.4" r="2.5"/>
<circle cx="1119.9" cy="390.1" r="2.5"/>
<circle cx="1143.9" cy="396.9" r="2.5"/>
<circle cx="1167.9" cy="392.9" r="2.5"/>
<circle cx="1192.0" cy="393.4" r="2.5"/>
<circle cx="1216.0" cy="388.2" r="2.5"/>
<circle cx="1240.1" cy="375.4" r="2.5"/>
<circle cx="1264.1" cy="373.3" r="2.5"/>
<circle cx="1288.1" cy="380.4" r="2.5"/>
<circle cx="1312.2" cy="383.8" r="2.5"/>
<circle cx="1336.2" cy="376.1" r="2.5"/>
<circle cx="1360.3" cy="383.2" r="2.5"/>
<circle cx="1384.3" cy="383.0" r="2.5"/>
<circle cx="1408.3" cy="382.4" r="2.5"/>
<circle cx="1432.4" cy="388.5" r="2.5"/>
<circle cx="1456.4" cy="429.3" r="2.5"/>
<circle cx="1480.5" cy="345.1" r="2.5"/>
<circle cx="1504.5" cy="396.4" r="2.5"/>
<circle cx="1528.5" cy="387.4" r="2.5"/>
<circle cx="1552.6" cy="446.0" r="2.5"/>
</g>
<clipPath id="cP"><polygon points="182.3,480.4 182.3,478.7 206.3,478.9 230.4,478.4 254.4,478.4 278.5,476.9 302.5,477.5 326.5,477.2 350.6,477.2 374.6,477.6 398.7,477.9 422.7,476.9 446.7,476.9 470.8,477.3 494.8,474.8 518.9,469.0 542.9,464.0 566.9,474.5 591.0,475.0 615.0,474.5 639.1,474.5 663.1,475.0 687.1,473.9 711.2,473.9 735.2,474.2 759.3,474.2 783.3,475.0 807.3,470.6 831.4,473.1 855.4,468.5 879.5,469.0 903.5,471.4 927.5,469.0 951.6,467.4 975.6,450.2 999.7,445.5 1023.7,451.8 1047.7,443.1 1071.8,454.6 1095.8,455.2 1119.9,462.4 1143.9,459.9 1167.9,460.4 1192.0,464.3 1216.0,458.0 1240.1,451.4 1264.1,457.7 1288.1,458.5 1312.2,458.0 1336.2,458.8 1360.3,462.7 1384.3,465.1 1408.3,467.1 1432.4,469.8 1456.4,470.1 1480.5,470.6 1504.5,471.7 1528.5,469.0 1552.6,475.6 1552.6,480.4"/></clipPath>
<polygon points="182.3,480.4 182.3,478.7 206.3,478.9 230.4,478.4 254.4,478.4 278.5,476.9 302.5,477.5 326.5,477.2 350.6,477.2 374.6,477.6 398.7,477.9 422.7,476.9 446.7,476.9 470.8,477.3 494.8,474.8 518.9,469.0 542.9,464.0 566.9,474.5 591.0,475.0 615.0,474.5 639.1,474.5 663.1,475.0 687.1,473.9 711.2,473.9 735.2,474.2 759.3,474.2 783.3,475.0 807.3,470.6 831.4,473.1 855.4,468.5 879.5,469.0 903.5,471.4 927.5,469.0 951.6,467.4 975.6,450.2 999.7,445.5 1023.7,451.8 1047.7,443.1 1071.8,454.6 1095.8,455.2 1119.9,462.4 1143.9,459.9 1167.9,460.4 1192.0,464.3 1216.0,458.0 1240.1,451.4 1264.1,457.7 1288.1,458.5 1312.2,458.0 1336.2,458.8 1360.3,462.7 1384.3,465.1 1408.3,467.1 1432.4,469.8 1456.4,470.1 1480.5,470.6 1504.5,471.7 1528.5,469.0 1552.6,475.6 1552.6,480.4" fill="#d19dbd" clip-path="url(#fc)"/>
<g clip-path="url(#cP)" stroke="#000" stroke-opacity="0.045" stroke-width="1.2">
</g>
<polyline points="182.3,478.7 206.3,478.9 230.4,478.4 254.4,478.4 278.5,476.9 302.5,477.5 326.5,477.2 350.6,477.2 374.6,477.6 398.7,477.9 422.7,476.9 446.7,476.9 470.8,477.3 494.8,474.8 518.9,469.0 542.9,464.0 566.9,474.5 591.0,475.0 615.0,474.5 639.1,474.5 663.1,475.0 687.1,473.9 711.2,473.9 735.2,474.2 759.3,474.2 783.3,475.0 807.3,470.6 831.4,473.1 855.4,468.5 879.5,469.0 903.5,471.4 927.5,469.0 951.6,467.4 975.6,450.2 999.7,445.5 1023.7,451.8 1047.7,443.1 1071.8,454.6 1095.8,455.2 1119.9,462.4 1143.9,459.9 1167.9,460.4 1192.0,464.3 1216.0,458.0 1240.1,451.4 1264.1,457.7 1288.1,458.5 1312.2,458.0 1336.2,458.8 1360.3,462.7 1384.3,465.1 1408.3,467.1 1432.4,469.8 1456.4,470.1 1480.5,470.6 1504.5,471.7 1528.5,469.0 1552.6,475.6" fill="none" stroke="#b0457f" stroke-width="2.2" stroke-linejoin="round" stroke-linecap="round"/>
<g fill="#fff" stroke="#b0457f" stroke-width="1.5" stroke-opacity="0.8">
<circle cx="182.3" cy="478.7" r="2.5"/>
<circle cx="206.3" cy="478.9" r="2.5"/>
<circle cx="230.4" cy="478.4" r="2.5"/>
<circle cx="254.4" cy="478.4" r="2.5"/>
<circle cx="278.5" cy="476.9" r="2.5"/>
<circle cx="302.5" cy="477.5" r="2.5"/>
<circle cx="326.5" cy="477.2" r="2.5"/>
<circle cx="350.6" cy="477.2" r="2.5"/>
<circle cx="374.6" cy="477.6" r="2.5"/>
<circle cx="398.7" cy="477.9" r="2.5"/>
<circle cx="422.7" cy="476.9" r="2.5"/>
<circle cx="446.7" cy="476.9" r="2.5"/>
<circle cx="470.8" cy="477.3" r="2.5"/>
<circle cx="494.8" cy="474.8" r="2.5"/>
<circle cx="518.9" cy="469.0" r="2.5"/>
<circle cx="542.9" cy="464.0" r="2.5"/>
<circle cx="566.9" cy="474.5" r="2.5"/>
<circle cx="591.0" cy="475.0" r="2.5"/>
<circle cx="615.0" cy="474.5" r="2.5"/>
<circle cx="639.1" cy="474.5" r="2.5"/>
<circle cx="663.1" cy="475.0" r="2.5"/>
<circle cx="687.1" cy="473.9" r="2.5"/>
<circle cx="711.2" cy="473.9" r="2.5"/>
<circle cx="735.2" cy="474.2" r="2.5"/>
<circle cx="759.3" cy="474.2" r="2.5"/>
<circle cx="783.3" cy="475.0" r="2.5"/>
<circle cx="807.3" cy="470.6" r="2.5"/>
<circle cx="831.4" cy="473.1" r="2.5"/>
<circle cx="855.4" cy="468.5" r="2.5"/>
<circle cx="879.5" cy="469.0" r="2.5"/>
<circle cx="903.5" cy="471.4" r="2.5"/>
<circle cx="927.5" cy="469.0" r="2.5"/>
<circle cx="951.6" cy="467.4" r="2.5"/>
<circle cx="975.6" cy="450.2" r="2.5"/>
<circle cx="999.7" cy="445.5" r="2.5"/>
<circle cx="1023.7" cy="451.8" r="2.5"/>
<circle cx="1047.7" cy="443.1" r="2.5"/>
<circle cx="1071.8" cy="454.6" r="2.5"/>
<circle cx="1095.8" cy="455.2" r="2.5"/>
<circle cx="1119.9" cy="462.4" r="2.5"/>
<circle cx="1143.9" cy="459.9" r="2.5"/>
<circle cx="1167.9" cy="460.4" r="2.5"/>
<circle cx="1192.0" cy="464.3" r="2.5"/>
<circle cx="1216.0" cy="458.0" r="2.5"/>
<circle cx="1240.1" cy="451.4" r="2.5"/>
<circle cx="1264.1" cy="457.7" r="2.5"/>
<circle cx="1288.1" cy="458.5" r="2.5"/>
<circle cx="1312.2" cy="458.0" r="2.5"/>
<circle cx="1336.2" cy="458.8" r="2.5"/>
<circle cx="1360.3" cy="462.7" r="2.5"/>
<circle cx="1384.3" cy="465.1" r="2.5"/>
<circle cx="1408.3" cy="467.1" r="2.5"/>
<circle cx="1432.4" cy="469.8" r="2.5"/>
<circle cx="1456.4" cy="470.1" r="2.5"/>
<circle cx="1480.5" cy="470.6" r="2.5"/>
<circle cx="1504.5" cy="471.7" r="2.5"/>
<circle cx="1528.5" cy="469.0" r="2.5"/>
<circle cx="1552.6" cy="475.6" r="2.5"/>
</g>
<g font-family="Liberation Sans, sans-serif" font-size="15.65" fill="#727272" stroke="#727272" stroke-width="0.3" text-anchor="middle">
<line x1="182.3" x2="182.3" y1="481" y2="486.5" stroke="#d3e0ef" stroke-width="1.2"/>
<text x="182.8" y="506.1">Jan 2010</text>
<line x1="350.6" x2="350.6" y1="481" y2="486.5" stroke="#d3e0ef" stroke-width="1.2"/>
<text x="351.1" y="506.1">Aug 2010</text>
<line x1="518.9" x2="518.9" y1="481" y2="486.5" stroke="#d3e0ef" stroke-width="1.2"/>
<text x="519.4" y="506.1">Mar 2011</text>
<line x1="687.1" x2="687.1" y1="481" y2="486.5" stroke="#d3e0ef" stroke-width="1.2"/>
<text x="687.6" y="506.1">Oct 2011</text>
<line x1="855.4" x2="855.4" y1="481" y2="486.5" stroke="#d3e0ef" stroke-width="1.2"/>
<text x="855.9" y="506.1">May 2012</text>
<line x1="1023.7" x2="1023.7" y1="481" y2="486.5" stroke="#d3e0ef" stroke-width="1.2"/>
<text x="1024.2" y="506.1">Dec 2012</text>
<line x1="1192.0" x2="1192.0" y1="481" y2="486.5" stroke="#d3e0ef" stroke-width="1.2"/>
<text x="1192.5" y="506.1">Jul 2013</text>
<line x1="1360.3" x2="1360.3" y1="481" y2="486.5" stroke="#d3e0ef" stroke-width="1.2"/>
<text x="1360.8" y="506.1">Feb 2014</text>
<line x1="1528.5" x2="1528.5" y1="481" y2="486.5" stroke="#d3e0ef" stroke-width="1.2"/>
<text x="1529.0" y="506.1">Sep 2014</text>
</g>
<g font-family="Liberation Sans, sans-serif" font-size="15.8" fill="#7a7a7a" stroke="#7a7a7a" stroke-width="0.3" text-anchor="end">
<text x="160" y="115.6">4,000,000</text>
<text x="160" y="209.0">3,000,000</text>
<text x="160" y="302.5">2,000,000</text>
<text x="160" y="395.9">1,000,000</text>
<text x="160" y="487.9">0</text>
</g>
<text transform="translate(76,294.5) rotate(-90)" text-anchor="middle" font-family="Liberation Sans, sans-serif" font-weight="bold" font-size="16" fill="#4a77a8">Visits</text>
<defs><g id="cal"><rect x="-8.6" y="-7.4" width="17.2" height="17.6" rx="1" fill="#fff" stroke="#606060" stroke-width="2"/><rect x="-9.2" y="-8.4" width="18.4" height="4.7" fill="#606060"/><g fill="#e4e4e4" stroke="#7c7c7c" stroke-width="1.1"><rect x="-6.7" y="-11.9" width="3.1" height="5.9" rx="1.55"/><rect x="-1.9" y="-11.9" width="3.1" height="5.9" rx="1.55"/><rect x="3.4" y="-11.9" width="3.1" height="5.9" rx="1.55"/></g><path d="M-5 2.6 l2.7 2.7 l6.4 -5.8" fill="none" stroke="#505050" stroke-width="1.9"/></g></defs>
<use href="#cal" x="183.0" y="542.2"/>
<use href="#cal" x="351.3" y="542.2"/>
<use href="#cal" x="519.6" y="542.2"/>
<use href="#cal" x="687.8" y="542.2"/>
<use href="#cal" x="856.1" y="542.2"/>
<use href="#cal" x="1024.4" y="542.2"/>
<use href="#cal" x="1192.7" y="542.2"/>
<use href="#cal" x="1361.0" y="542.2"/>
<use href="#cal" x="1529.2" y="542.2"/>
<path d="M183.5 439 V388.3 H318.5 L326.5 340.7 L334.5 388.3 H468.5 V439" fill="none" stroke="#c00000" stroke-width="2.2" stroke-linejoin="miter"/>
<g font-family="Liberation Sans, sans-serif" fill="#c00000" stroke="#c00000" stroke-width="0.35" font-size="25"><text y="296.7"><tspan x="206.32" textLength="34.36" lengthAdjust="spacingAndGlyphs">De</tspan> <tspan x="246.18" textLength="84.38" lengthAdjust="spacingAndGlyphs">meeste</tspan> <tspan x="337.90" textLength="108.20" lengthAdjust="spacingAndGlyphs">bedrijven</tspan></text><text y="323"><tspan x="248.22" textLength="68.38" lengthAdjust="spacingAndGlyphs">geven</tspan> <tspan x="323.54" textLength="42.84" lengthAdjust="spacingAndGlyphs">hier</tspan> <tspan x="373.68" textLength="29.92" lengthAdjust="spacingAndGlyphs">op</tspan></text></g>
<text y="177.7" font-family="Liberation Sans, sans-serif" font-size="53.3" fill="#c8261c" stroke="#c8261c" stroke-width="0.9"><tspan x="889.86" textLength="58.56" lengthAdjust="spacingAndGlyphs">En</tspan> <tspan x="961.58" textLength="156.92" lengthAdjust="spacingAndGlyphs">missen</tspan> <tspan x="1133.72" textLength="59.84" lengthAdjust="spacingAndGlyphs">dit</tspan></text>
<polygon points="783.8,380.6 1497.2,97.8 1501.2,108.0 1526.0,81.0 1489.4,78.3 1493.5,88.5 780.2,371.4" fill="#c8261c"/>
</svg>
</body></html>
